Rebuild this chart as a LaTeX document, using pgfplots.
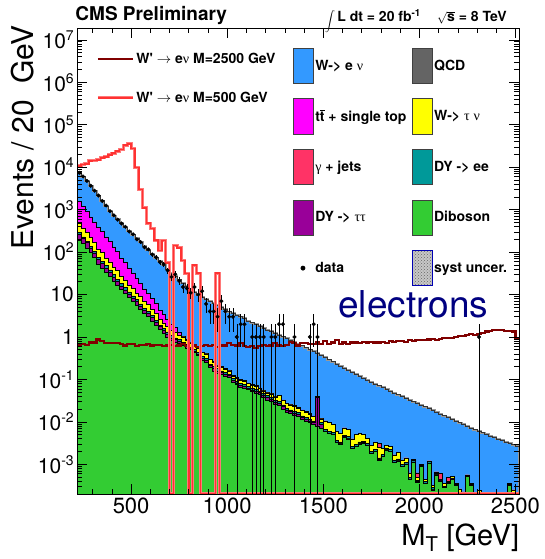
\documentclass[border=0pt]{standalone}
\usepackage{pgfplots}
\pgfplotsset{compat=1.18}
\usepackage{pgfplotstable}
\usetikzlibrary{patterns}
\usepackage{fontspec}
\setmainfont{TeX Gyre Heros}
\newfontfamily\symf{Liberation Serif}

\definecolor{wenu}{RGB}{51,153,255}
\definecolor{qcd}{RGB}{100,100,100}
\definecolor{ttbar}{RGB}{255,0,255}
\definecolor{wtau}{RGB}{255,255,0}
\definecolor{gjets}{RGB}{255,51,102}
\definecolor{dyee}{RGB}{0,153,153}
\definecolor{dytt}{RGB}{153,0,153}
\definecolor{dibo}{RGB}{51,204,51}
\definecolor{sigA}{RGB}{128,0,0}
\definecolor{sigB}{RGB}{255,50,50}
\definecolor{sigBl}{RGB}{255,120,120}
\definecolor{elec}{RGB}{0,0,128}

% cumulative stack tops per 20 GeV bin (low edge)
\pgfplotstableread{
x B M K Y T P G
220 1e-5 1e-5 1e-5 1e-5 1e-5 1e-5 1e-5
220 7413 1585 479 479 288 263 191
240 6026 1202 363 363 229 214 158
260 4786 912 295 295 182 166 126
280 3631 676 219 219 138 126 100
300 2818 513 166 166 105 95.5 75.9
320 2138 389 115 115 75.9 66.1 52.5
340 1622 302 97.7 97.7 60.3 53.7 41.7
360 1230 229 72.4 72.4 47.9 41.7 33.1
380 933 178 58.9 58.9 38.0 33.9 26.3
400 724 132 42.7 42.7 29.5 25.7 20.9
420 589 102 36.3 36.3 22.9 20.0 16.6
440 479 72.4 26.3 26.3 18.2 15.8 13.2
460 389 57.5 21.9 21.9 14.5 12.6 10.5
480 316 41.7 16.6 16.6 11.5 10.2 8.51
500 257 32.4 14.1 14.1 9.33 8.32 6.92
520 209 24.0 10.7 10.7 7.59 6.76 5.62
540 170 18.6 9.12 9.12 6.03 5.37 4.57
560 138 13.5 6.76 6.76 4.79 4.27 3.63
580 112 10.7 5.75 5.75 3.98 3.55 3.02
600 91.2 7.94 4.37 4.37 3.16 2.88 2.40
620 74.1 6.17 3.63 3.63 2.51 2.24 1.91
640 60.3 4.27 2.63 2.63 1.91 1.74 1.48
660 49.0 3.39 2.14 2.14 1.58 1.41 1.20
680 39.8 2.63 1.78 1.78 1.32 1.17 1.00
700 32.4 2.00 1.41 1.41 1.07 0.955 0.832
720 26.9 1.66 1.32 1.32 0.955 0.871 0.759
740 22.4 1.32 1.12 1.12 0.871 0.794 0.708
760 18.6 1.05 1.00 1.00 0.759 0.708 0.631
780 15.5 0.871 0.832 0.832 0.661 0.603 0.550
800 12.9 0.759 0.724 0.724 0.562 0.537 0.501
820 11.2 0.631 0.603 0.603 0.501 0.468 0.437
840 9.77 0.562 0.537 0.537 0.437 0.398 0.363
860 8.71 0.447 0.437 0.437 0.347 0.316 0.282
880 7.76 0.417 0.398 0.398 0.316 0.282 0.251
900 6.92 0.302 0.295 0.295 0.229 0.214 0.191
920 6.17 0.263 0.251 0.251 0.200 0.182 0.158
940 5.62 0.219 0.209 0.209 0.178 0.158 0.141
960 5.01 0.200 0.191 0.191 0.158 0.145 0.132
980 4.47 0.182 0.174 0.174 0.145 0.132 0.117
1000 3.98 0.166 0.158 0.158 0.132 0.123 0.110
1020 3.63 0.126 0.120 0.120 0.105 0.0955 0.0871
1040 3.31 0.112 0.107 0.107 0.0891 0.0832 0.0759
1060 3.02 0.100 0.0955 0.0955 0.0794 0.0724 0.0661
1080 2.75 0.0955 0.0912 0.0912 0.0759 0.0692 0.0631
1100 2.40 0.0832 0.0794 0.0794 0.0676 0.0617 0.0575
1120 2.19 0.0759 0.0724 0.0724 0.0603 0.0562 0.0513
1140 2.00 0.0724 0.0692 0.0692 0.0575 0.0525 0.0479
1160 1.78 0.0631 0.0603 0.0603 0.0525 0.0490 0.0437
1180 1.62 0.0562 0.0537 0.0537 0.0468 0.0427 0.0380
1200 1.48 0.0501 0.0479 0.0479 0.0417 0.0380 0.0331
1220 1.35 0.0468 0.0457 0.0457 0.0380 0.0347 0.0302
1240 1.23 0.0398 0.0389 0.0389 0.0316 0.0295 0.0263
1260 1.12 0.0417 0.0417 0.0417 0.0302 0.0275 0.0240
1280 1.02 0.0331 0.0324 0.0324 0.0251 0.0229 0.0200
1300 0.933 0.0275 0.0269 0.0269 0.0209 0.0191 0.0166
1320 0.843 0.0263 0.0251 0.0251 0.0191 0.0174 0.0158
1340 0.762 0.0240 0.0234 0.0234 0.0174 0.0158 0.0141
1360 0.689 0.0219 0.0209 0.0209 0.0166 0.0148 0.0132
1380 0.622 0.0191 0.0186 0.0186 0.0138 0.0129 0.0115
1400 0.562 0.0174 0.0166 0.0166 0.0126 0.0117 0.0105
1420 0.506 0.0158 0.0151 0.0151 0.0112 0.0105 0.00955
1440 0.455 0.0138 0.0135 0.0135 0.0105 0.00955 0.00871
1460 0.409 0.0398 0.0398 0.0398 0.0380 0.0372 0.00794
1480 0.368 0.0120 0.0117 0.0117 0.00955 0.00891 0.00724
1500 0.331 0.0105 0.0105 0.0105 0.00675 0.00615 0.00603
1520 0.294 0.00955 0.00955 0.00955 0.00588 0.00536 0.00525
1540 0.261 0.00871 0.00871 0.00871 0.00561 0.00511 0.00501
1560 0.231 0.00603 0.00603 0.00603 0.00371 0.00338 0.00331
1580 0.205 0.00525 0.00525 0.00525 0.00338 0.00308 0.00302
1600 0.182 0.00724 0.00724 0.00724 0.00489 0.00446 0.00437
1620 0.164 0.00661 0.00661 0.00661 0.00446 0.00406 0.00398
1640 0.147 0.00398 0.00398 0.00398 0.00269 0.00245 0.00240
1660 0.132 0.00501 0.00501 0.00501 0.00295 0.00268 0.00263
1680 0.119 0.00525 0.00525 0.00525 0.00338 0.00308 0.00302
1700 0.107 0.00501 0.00501 0.00501 0.00354 0.00322 0.00316
1720 0.0968 0.00417 0.00417 0.00417 0.00316 0.00288 0.00282
1740 0.0875 0.00282 0.00282 0.00282 0.00204 0.00186 0.00182
1760 0.0791 0.00331 0.00331 0.00331 0.00224 0.00204 0.00200
1780 0.0715 0.00316 0.00316 0.00251 0.00141 0.00129 0.00126
1800 0.0646 0.00240 0.00240 0.00240 0.00169 0.00154 0.00151
1820 0.0586 0.00282 0.00282 0.00282 0.00245 0.00223 0.00219
1840 0.0532 0.00263 0.00263 0.00263 0.00224 0.00204 0.00200
1860 0.0483 0.00166 0.00166 0.00166 0.00125 0.00114 0.00112
1880 0.0439 0.00191 0.00191 0.00191 0.00134 0.00122 0.00120
1900 0.0398 0.00126 0.00126 0.00126 0.000998 0.000909 0.000891
1920 0.0363 0.00141 0.00141 0.00141 0.00112 0.00102 0.00100
1940 0.0331 0.000631 0.000631 0.000631 0.000501 0.000456 0.000447
1960 0.0302 0.00132 0.00132 0.00132 0.00125 0.00114 0.00112
1980 0.0275 0.000631 0.000631 0.000501 0.000426 0.000388 0.000380
2000 0.0251 0.00100 0.00100 0.00100 0.00095 0.000909 0.000891
2020 0.0228 0.000447 0.000447 0.000447 0.000398 0.000362 0.000355
2040 0.0207 0.00120 0.00120 0.00120 0.00115 0.00107 0.00105
2060 0.0188 0.000316 0.000316 0.000316 0.00028 0.000256 0.000251
2080 0.0171 0.000661 0.000661 0.000661 0.00062 0.000573 0.000562
2100 0.0155 0.000603 0.000603 0.000447 0.00042 0.000406 0.000398
2120 0.0141 0.000355 0.000355 0.000355 0.00031 0.000288 0.000282
2140 0.0128 0.000501 0.000501 0.000398 0.000375 0.000362 0.000355
2160 0.0116 0.000525 0.000525 0.000525 0.00048 0.000456 0.000447
2180 0.0105 0.000355 0.000355 0.000355 0.00033 0.000322 0.000316
2200 0.00955 0.000263 0.000263 0.000263 0.00022 0.000204 0.000200
2220 0.00871 0.000224 0.000224 0.000224 0.00018 0.000161 0.000158
2240 0.00794 0.000562 0.000562 0.000562 0.00054 0.00053 0.000525
2260 0.00724 0.000355 0.000355 0.000355 0.00033 0.00032 0.000316
2280 0.00661 0.0002 0.0002 0.0002 1e-5 1e-5 1e-5
2300 0.00603 0.00024 0.00024 0.00024 1e-5 1e-5 1e-5
2320 0.00555 1e-5 1e-5 1e-5 1e-5 1e-5 1e-5
2340 0.00511 1e-5 1e-5 1e-5 1e-5 1e-5 1e-5
2360 0.00470 1e-5 1e-5 1e-5 1e-5 1e-5 1e-5
2380 0.00433 1e-5 1e-5 1e-5 1e-5 1e-5 1e-5
2400 0.00398 1e-5 1e-5 1e-5 1e-5 1e-5 1e-5
2420 0.00368 1e-5 1e-5 1e-5 1e-5 1e-5 1e-5
2440 0.00340 1e-5 1e-5 1e-5 1e-5 1e-5 1e-5
2460 0.00315 0.000355 0.000355 0.000355 0.00033 0.00032 0.000316
2480 0.00291 0.000251 0.000251 0.000251 1e-5 1e-5 1e-5
2500 0.00269 1e-5 1e-5 1e-5 1e-5 1e-5 1e-5
2520 0.00269 1e-5 1e-5 1e-5 1e-5 1e-5 1e-5
2520 1e-5 1e-5 1e-5 1e-5 1e-5 1e-5 1e-5
}\stack

% W' M=500 GeV (zero bins drawn at the lower edge)
\pgfplotstableread{
x y
220 10700
240 11700
260 12000
280 14100
300 14500
320 14800
340 16600
360 17400
380 19500
400 21400
420 24000
440 26300
460 33100
480 35500
500 27500
520 9800
540 3000
560 1100
580 480
600 360
620 190
640 110
660 186
680 56
700 2.05e-4
720 141
740 126
760 63
780 31
800 2.05e-4
820 49
840 32
860 2.05e-4
940 32
960 2.05e-4
2520 2.05e-4
}\sigB

% W' M=2500 GeV
\pgfplotstableread{
x y
220 0.631
240 0.692
260 0.646
280 0.741
300 0.741
320 0.871
340 0.794
360 0.708
380 0.724
400 0.708
420 0.724
440 0.676
460 0.631
480 0.692
500 0.692
520 0.617
540 0.661
560 0.646
580 0.692
600 0.631
620 0.646
640 0.661
660 0.617
680 0.631
700 0.646
720 0.603
740 0.631
760 0.676
780 0.617
800 0.562
820 0.631
840 0.575
860 0.617
880 0.646
900 0.603
920 0.661
940 0.589
960 0.631
980 0.631
1000 0.708
1020 0.661
1040 0.631
1060 0.724
1080 0.603
1100 0.575
1120 0.603
1140 0.562
1160 0.603
1180 0.661
1200 0.617
1220 0.631
1240 0.724
1260 0.631
1280 0.603
1300 0.661
1320 0.759
1340 0.708
1360 0.631
1380 0.724
1400 0.724
1420 0.676
1440 0.692
1460 0.759
1480 0.676
1500 0.794
1520 0.692
1540 0.741
1560 0.832
1580 0.692
1600 0.741
1620 0.692
1640 0.741
1660 0.741
1680 0.724
1700 0.759
1720 0.741
1740 0.776
1760 0.741
1780 0.741
1800 0.759
1820 0.724
1840 0.794
1860 0.759
1880 0.794
1900 0.813
1920 0.759
1940 0.832
1960 0.794
1980 0.832
2000 0.851
2020 0.832
2040 0.871
2060 0.891
2080 0.851
2100 0.912
2120 0.933
2140 0.955
2160 0.933
2180 1.0
2200 1.047
2220 1.072
2240 1.122
2260 1.148
2280 1.122
2300 1.202
2320 1.259
2340 1.349
2360 1.413
2380 1.445
2400 1.445
2420 1.445
2440 1.413
2460 1.413
2480 1.349
2500 0.891
2520 0.891
}\sigA

% data (bin centres)
\pgfplotstableread{
x y ep em
230 7390 86 86
250 6050 78 78
270 4750 69 69
290 3660 60 60
310 2790 53 53
330 2150 46 46
350 1600 40 40
370 1250 35 35
390 920 30 30
410 735 27 27
430 580 24 24
450 470 22 22
470 395 20 20
490 305 17 17
510 262 16 16
530 200 14 14
550 172 13 13
570 130 11 11
590 116 11 11
610 88 9.4 9.4
630 75 8.7 8.7
650 58 7.6 7.6
670 52 7.2 7.2
690 37 6.1 6.1
710 26 5.1 5.1
730 30 5.5 5.5
750 21 4.6 4.6
770 15 3.9 3.9
790 14 3.7 3.7
810 11 3.3 3.3
830 15 3.9 3.9
850 10 3.2 3.2
870 12 3.5 3.5
890 6 2.4 2.4
910 4 2 2
930 4 2 2
950 3 1.7 1.7
970 7 2.6 2.6
990 4 2 2
1010 3 1.7 1.7
1030 3 1.7 1.7
1050 1 1 0.9999
1070 2 1.41 1.41
1090 2 1.41 1.41
1130 1 1 0.9999
1150 1 1 0.9999
1170 1 1 0.9999
1190 1 1 0.9999
1230 1 1 0.9999
1250 1 1 0.9999
1270 2 1.41 1.41
1290 2 1.41 1.41
1350 1 1 0.9999
1430 1 1 0.9999
1450 2 1.41 1.41
1470 1 1 0.9999
2310 1 1 0.9999
}\data

\newcommand{\ex}[1]{10\raisebox{8pt}{\fontsize{14}{14}\selectfont #1}}
\newcommand{\gr}[1]{{\symf\mdseries #1}}

\pgfplotsset{
  boxleg/.style={legend image code/.code={\draw[##1] (0pt,-17.5pt) rectangle (20pt,17.5pt);}},
}

\begin{document}
\begin{tikzpicture}
\path[use as bounding box] (-77.3pt,-65pt) rectangle (466.7pt,494pt);
\begin{axis}[
  scale only axis, width=442pt, height=466pt,
  at={(0,0)}, anchor=south west,
  xmin=220, xmax=2520, ymode=log, ymin=2e-4, ymax=1.9e7,
  log origin y=infty,
  clip mode=individual,
  axis on top,
  axis line style={line width=0.9pt},
  every tick/.style={line width=0.6pt, black},
  tick align=inside,
  major tick length=10pt, minor tick length=5pt,
  xtick={500,1000,1500,2000,2500},
  xticklabels={500,1000,1500,2000,2500},
  minor xtick={300,400,600,700,800,900,1100,1200,1300,1400,1600,1700,1800,1900,2100,2200,2300,2400},
  ytick={1e-3,1e-2,1e-1,1,10,100,1000,1e4,1e5,1e6,1e7},
  yticklabels={\ex{-3},\ex{-2},\ex{-1},1,10,\ex{2},\ex{3},\ex{4},\ex{5},\ex{6},\ex{7}},
  minor ytick={2e-4,3e-4,4e-4,5e-4,6e-4,7e-4,8e-4,9e-4,2e-3,3e-3,4e-3,5e-3,6e-3,7e-3,8e-3,9e-3,0.02,0.03,0.04,0.05,0.06,0.07,0.08,0.09,0.2,0.3,0.4,0.5,0.6,0.7,0.8,0.9,2,3,4,5,6,7,8,9,20,30,40,50,60,70,80,90,200,300,400,500,600,700,800,900,2000,3000,4000,5000,6000,7000,8000,9000,2e4,3e4,4e4,5e4,6e4,7e4,8e4,9e4,2e5,3e5,4e5,5e5,6e5,7e5,8e5,9e5,2e6,3e6,4e6,5e6,6e6,7e6,8e6,9e6},
  x tick label style={font=\fontsize{22}{22}\selectfont},
  y tick label style={font=\fontsize{21}{21}\selectfont},
  legend style={at={(0.036,0.955)}, anchor=north west, draw=none, fill=none,
    font=\fontsize{14}{16}\selectfont\bfseries, row sep=23pt},
  legend cell align=left,
  legend image code/.code={\draw[#1] (0pt,0pt) -- (35pt,0pt);},
]
% stack (cumulative tops), drawn from the largest to the smallest
\addplot[forget plot, const plot, fill=wenu, draw=none] table[x=x,y=B]{\stack};
\addplot[forget plot, const plot, draw=black!40, line width=2pt] table[x=x,y=B]{\stack};
\addplot[forget plot, const plot, fill=ttbar, draw=black, line width=0.6pt] table[x=x,y=M]{\stack};
\addplot[forget plot, const plot, fill=gjets, draw=black, line width=0.6pt] table[x=x,y=K]{\stack};
\addplot[forget plot, const plot, fill=wtau, draw=black, line width=0.6pt] table[x=x,y=Y]{\stack};
\addplot[forget plot, const plot, fill=dyee, draw=black, line width=0.6pt] table[x=x,y=T]{\stack};
\addplot[forget plot, const plot, fill=dytt, draw=black, line width=0.6pt] table[x=x,y=P]{\stack};
\addplot[forget plot, const plot, fill=dibo, draw=black, line width=0.6pt] table[x=x,y=G]{\stack};
\addplot[forget plot, const plot, draw=black!80, line width=0.5pt] table[x=x,y=B]{\stack};
% signals
\addplot[const plot, draw=sigA, line width=2.1pt] table[x=x,y=y]{\sigA};
\addlegendentry{W\textquotesingle\ $\rightarrow$ e\gr{ν} M=2500 GeV}
\addplot[const plot, draw=sigB, line width=1.5pt, preaction={draw=sigBl, line width=3pt}] table[x=x,y=y]{\sigB};
\addlegendentry{W\textquotesingle\ $\rightarrow$ e\gr{ν} M=500 GeV}
% data
\addplot[forget plot, only marks, mark=*, mark size=1.8pt, black,
  error bars/.cd, y dir=both, y explicit, error mark=none,
  error bar style={black, line width=0.6pt}]
  table[x=x, y=y, y error plus=ep, y error minus=em]{\data};

% texts
\path (rel axis cs:0,1) ++(-2pt,7pt) node[anchor=base west, font=\fontsize{19}{19}\selectfont\bfseries, inner sep=0pt] {CMS Preliminary};
\path (rel axis cs:0.560,1) ++(0pt,6pt) node[anchor=base west, font=\fontsize{14}{14}\selectfont\bfseries, inner sep=0pt] {\raisebox{-2pt}{\fontsize{10}{10}\selectfont$\displaystyle\int$}\,L dt = 20 fb\textsuperscript{-1}};
\path (rel axis cs:0.8138,1) ++(0pt,6pt) node[anchor=base west, font=\fontsize{14}{14}\selectfont\bfseries, inner sep=0pt] {{\fontsize{12}{12}\selectfont$\sqrt{\mbox{\fontsize{14}{14}\selectfont\bfseries s}}$} = 8 TeV};
\path (rel axis cs:0.76,0.378) node[anchor=base, font=\fontsize{37}{37}\selectfont, text=elec, inner sep=0pt] {electrons};
\path (rel axis cs:0,1) ++(-44pt,3pt) node[rotate=90, anchor=base east, font=\fontsize{30}{30}\selectfont, inner sep=0pt] {Events / 20\ \ GeV};
\path (rel axis cs:1,0) ++(0pt,-51pt) node[anchor=base east, font=\fontsize{29}{29}\selectfont, inner sep=0pt] {M\textsubscript{T} [GeV]};
\end{axis}

\begin{axis}[
  scale only axis, width=442pt, height=466pt,
  at={(0,0)}, anchor=south west,
  hide axis, xmin=0, xmax=1, ymin=0, ymax=1,
  legend columns=2,
  legend cell align=left,
  legend style={at={(0.48,0.962)}, anchor=north west, draw=none, fill=none,
    font=\fontsize{14}{16}\selectfont\bfseries, row sep=15pt,
    /tikz/every even column/.append style={column sep=3pt}},
]
\addlegendimage{boxleg, fill=wenu, draw=black!75, line width=0.6pt}
\addlegendentry{W-> e \gr{ν}}
\addlegendimage{boxleg, fill=qcd, draw=black!75, line width=0.6pt}
\addlegendentry{QCD}
\addlegendimage{boxleg, fill=ttbar, draw=black!75, line width=0.6pt}
\addlegendentry{t$\overline{\mbox{t}}$ + single top}
\addlegendimage{boxleg, fill=wtau, draw=black!75, line width=0.6pt}
\addlegendentry{W-> \gr{τ} \gr{ν}}
\addlegendimage{boxleg, fill=gjets, draw=black!75, line width=0.6pt}
\addlegendentry{\gr{γ} + jets}
\addlegendimage{boxleg, fill=dyee, draw=black!75, line width=0.6pt}
\addlegendentry{DY -> ee}
\addlegendimage{boxleg, fill=dytt, draw=black!75, line width=0.6pt}
\addlegendentry{DY -> \gr{ττ}}
\addlegendimage{boxleg, fill=dibo, draw=black!75, line width=0.6pt}
\addlegendentry{Diboson}
\addlegendimage{legend image code/.code={\fill[black] (10pt,0pt) circle (2.2pt);}}
\addlegendentry{data}
\addlegendimage{boxleg, preaction={fill=black!22}, pattern=crosshatch dots, pattern color=black!60, draw=blue!70!black, line width=0.6pt}
\addlegendentry{syst uncer.}
\end{axis}
\end{tikzpicture}
\end{document}
